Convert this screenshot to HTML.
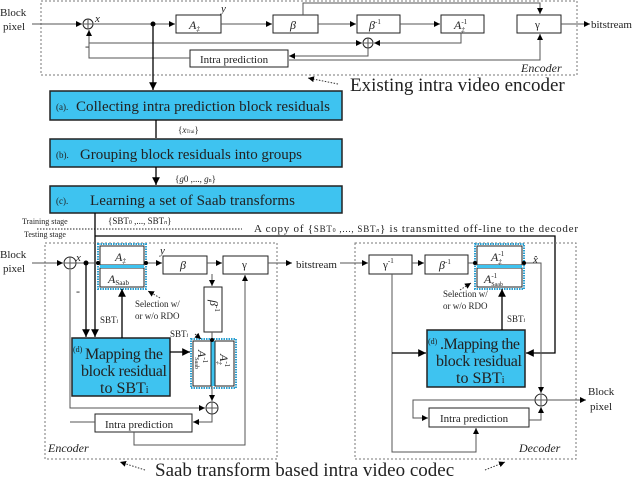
<!DOCTYPE html>
<html><head><meta charset="utf-8"><style>
html,body{margin:0;padding:0;background:#fff}
svg{display:block;font-family:"Liberation Serif",serif}
</style></head><body>
<svg width="640" height="479" viewBox="0 0 640 479" xmlns="http://www.w3.org/2000/svg">
<defs>
<marker id="a" viewBox="0 0 10 10" refX="10" refY="5" markerWidth="6" markerHeight="6" orient="auto"><path d="M0,0L10,5L0,10z" fill="#000"/></marker>
</defs>
<g fill="none" stroke="#666" stroke-width="1">
<rect x="41" y="1" width="536" height="74" stroke="#777" stroke-dasharray="2,2"/>
</g>
<g fill="#fff" stroke="#222" stroke-width="1">
<rect x="176" y="15" width="45" height="18"/>
<rect x="273" y="15" width="45" height="18"/>
<rect x="357" y="15" width="43" height="18"/>
<rect x="441" y="15" width="43" height="18"/>
<rect x="517" y="15" width="44" height="18"/>
<rect x="190" y="50" width="98" height="17"/>
<circle cx="88" cy="24" r="5"/><circle cx="368" cy="43" r="5"/>
</g>
<g stroke="#555" stroke-width="1" fill="none">
<path d="M83,24H93M88,19V29M363,43H373M368,38V48"/>
<path d="M32,24H82" marker-end="url(#a)"/>
<path d="M93,24H175" marker-end="url(#a)"/>
<path d="M221,24H272" marker-end="url(#a)"/>
<path d="M318,24H356" marker-end="url(#a)"/>
<path d="M400,24H440" marker-end="url(#a)"/>
<path d="M561,24H590" marker-end="url(#a)"/>
<path d="M303,15V3H540V14" marker-end="url(#a)"/>
<path d="M461,33V43H374" marker-end="url(#a)"/>
<path d="M89,43H362" marker-end="url(#a)"/>
<path d="M190,58H89V30" marker-end="url(#a)"/>
<path d="M368,48V56H289" marker-end="url(#a)"/>
<path d="M289,60H540V34" marker-end="url(#a)"/>
</g>
<path d="M153,24V90" stroke="#000" stroke-width="1.3" marker-end="url(#a)"/>
<circle cx="153" cy="24" r="2.5" fill="#000"/>
<path d="M338,84L308,78" stroke="#333" stroke-dasharray="1.5,1.5" marker-end="url(#a)"/>
<g font-size="11" fill="#222">
<text x="0" y="16">Block</text><text x="3" y="30">pixel</text>
<text x="95" y="22" font-style="italic">x</text>
<text x="221" y="12" font-style="italic">y</text>
<text x="189" y="29" font-style="italic" font-size="12">A<tspan font-size="7" dy="2">‡</tspan></text>
<text x="290" y="29" font-style="italic" font-size="12">β</text>
<text x="369" y="29" font-style="italic" font-size="12">β<tspan font-size="7" dy="-5" font-style="normal">-1</tspan></text>
<text x="454" y="29" font-style="italic" font-size="12">A<tspan font-size="7" dy="-5" font-style="normal">-1</tspan><tspan font-size="7" dx="-6" dy="8">‡</tspan></text>
<text x="535" y="28" font-size="11">γ</text>
<text x="591" y="28">bitstream</text>
<text x="85" y="50" font-size="12">-</text>
<text x="200" y="63">Intra prediction</text>
<text x="521" y="72" font-style="italic" font-size="12">Encoder</text>
</g>
<text x="350" y="91" font-size="19" fill="#222">Existing intra video encoder</text>
<g fill="#3ec3f0" stroke="#222" stroke-width="1.5">
<rect x="50" y="91" width="292" height="29"/>
<rect x="50" y="139" width="292" height="28"/>
<rect x="50" y="186" width="292" height="27"/>
</g>
<g fill="#222">
<text x="56" y="110" font-size="9">(a).</text><text x="76" y="111" font-size="15" textLength="254">Collecting intra prediction block residuals</text>
<text x="56" y="158" font-size="9">(b).</text><text x="80" y="159" font-size="15" textLength="222">Grouping block residuals into groups</text>
<text x="56" y="204" font-size="9">(c).</text><text x="90" y="205" font-size="15" textLength="205">Learning a set of  Saab transforms</text>
<text x="178" y="133" font-size="9">{<tspan font-style="italic">x</tspan><tspan font-size="5">Trai</tspan>}</text>
<text x="175" y="182" font-size="9">{<tspan font-style="italic">g</tspan>0 ,..., <tspan font-style="italic">g</tspan><tspan font-size="6">n</tspan>}</text>
<text x="22" y="224" font-size="8">Training stage</text>
<text x="24" y="237" font-size="8">Testing  stage</text>
<text x="108" y="224" font-size="9">{SBT<tspan font-size="6">0</tspan> ,..., SBT<tspan font-size="6" font-style="italic">n</tspan>}</text>
<text x="254" y="232" font-size="11" textLength="324">A copy of {<tspan font-size="9">SBT<tspan font-size="6">0</tspan> ,..., SBT<tspan font-size="6" font-style="italic">n</tspan></tspan>} is transmitted off-line to the decoder</text>
</g>
<path d="M156,120V138M156,167V185" stroke="#000" stroke-width="1.3" marker-end="url(#a)"/>
<path d="M37,229H242" stroke="#222" stroke-dasharray="1.5,1.5"/>
<path d="M95,213V337" stroke="#000" stroke-width="1.3" marker-end="url(#a)"/>
<path d="M95,236H555V353H526" stroke="#000" stroke-width="1.3" fill="none" marker-end="url(#a)"/>
<rect x="45" y="243" width="232" height="216" fill="none" stroke="#777" stroke-dasharray="2,2"/>
<rect x="355" y="243" width="221" height="216" fill="none" stroke="#777" stroke-dasharray="2,2"/>
<g fill="#fff" stroke="#222" stroke-width="1">
<rect x="98" y="244" width="48" height="45" stroke="#2a9fd0" stroke-width="2" stroke-dasharray="1.5,1"/>
<rect x="100" y="246" width="44" height="19"/><rect x="100" y="268" width="44" height="19"/>
<rect x="163" y="256" width="44" height="18"/>
<rect x="223" y="256" width="45" height="18"/>
<rect x="204" y="287" width="18" height="45"/>
<rect x="191" y="339" width="45" height="49" stroke="#2a9fd0" stroke-width="2" stroke-dasharray="1.5,1"/>
<rect x="193" y="341" width="18" height="45"/><rect x="215" y="341" width="19" height="45"/>
<rect x="95" y="414" width="97" height="18"/>
<circle cx="70" cy="263" r="6"/><circle cx="212" cy="408" r="6"/>
<rect x="369" y="255" width="43" height="19"/>
<rect x="425" y="255" width="43" height="19"/>
<rect x="475" y="244" width="49" height="45" stroke="#2a9fd0" stroke-width="2" stroke-dasharray="1.5,1"/>
<rect x="477" y="246" width="45" height="19"/><rect x="477" y="268" width="45" height="19"/>
<rect x="429" y="408" width="100" height="19"/>
<circle cx="541" cy="400" r="6"/>
</g>
<path d="M100,266.5H144M477,266.5H522" stroke="#3ec3f0" stroke-width="3"/>
<path d="M213,341V386" stroke="#3ec3f0" stroke-width="3"/>
<g fill="#3ec3f0" stroke="#222" stroke-width="1.5">
<rect x="72" y="338" width="98" height="58"/>
<rect x="427" y="330" width="98" height="57"/>
</g>
<g stroke="#555" stroke-width="1" fill="none">
<path d="M64,263H76M70,257V269M206,408H218M212,402V414M535,400H547M541,394V406"/>
<path d="M32,263H63" marker-end="url(#a)"/>
<path d="M76,263H100M144,263H162" marker-end="url(#a)"/>
<path d="M207,263H222" marker-end="url(#a)"/>
<path d="M268,263H292" marker-end="url(#a)"/>
<path d="M212,274V286" marker-end="url(#a)"/>
<path d="M212,332V341"/>
<path d="M212,386V401" marker-end="url(#a)"/>
<path d="M70,270V408H205" marker-end="url(#a)"/>
<path d="M95,422H70"/>
<path d="M212,414V422H193" marker-end="url(#a)"/>
<path d="M134,432V445H245V275" marker-end="url(#a)"/>
<path d="M340,263H368" marker-end="url(#a)"/>
<path d="M412,263H424" marker-end="url(#a)"/>
<path d="M468,263H477"/>
<path d="M522,263H541V393" marker-end="url(#a)"/>
<path d="M547,400H586" marker-end="url(#a)"/>
<path d="M392,274V452H476V428" marker-end="url(#a)"/>
<path d="M535,400H413V418H428" marker-end="url(#a)"/>
<path d="M529,420H541V407" marker-end="url(#a)"/>
</g>
<g stroke="#000" stroke-width="1.3" fill="none">
<path d="M86,263V337" marker-end="url(#a)"/>
<path d="M122,338V289" marker-end="url(#a)"/>
<path d="M170,352H190" marker-end="url(#a)"/>
<path d="M392,353H426" marker-end="url(#a)"/>
<path d="M502,330V289" marker-end="url(#a)"/>
</g>
<g fill="#000"><circle cx="86" cy="263" r="2.5"/><circle cx="98" cy="263" r="2"/><circle cx="146" cy="263" r="2"/><circle cx="212" cy="340" r="2"/><circle cx="475" cy="263" r="2"/><circle cx="524" cy="263" r="2"/></g>
<g stroke="#333" stroke-dasharray="1.5,1.5" fill="none">
<path d="M160,298L148,291" marker-end="url(#a)"/>
<path d="M195,334L201,339" marker-end="url(#a)"/>
<path d="M460,290L471,283" marker-end="url(#a)"/>
<path d="M145,470L120,462" marker-end="url(#a)"/>
<path d="M485,470L505,462" marker-end="url(#a)"/>
</g>
<g fill="#222" font-size="11">
<text x="0" y="258">Block</text><text x="3" y="272">pixel</text>
<text x="76" y="261" font-style="italic">x</text>
<text x="160" y="254" font-style="italic">y</text>
<text x="115" y="261" font-style="italic" font-size="12">A<tspan font-size="7" dy="2">‡</tspan></text>
<text x="108" y="283" font-style="italic" font-size="12">A<tspan font-size="7" font-style="normal" dy="2">Saab</tspan></text>
<text x="180" y="269" font-style="italic" font-size="12">β</text>
<text x="242" y="268">γ</text>
<text x="76" y="295" font-size="12">-</text>
<text x="100" y="323" font-size="9">SBT<tspan font-size="6" font-style="italic">i</tspan></text>
<text x="135" y="307" font-size="9">Selection w/</text>
<text x="135" y="319" font-size="9">or w/o RDO</text>
<text x="170" y="337" font-size="9">SBT<tspan font-size="6" font-style="italic">i</tspan></text>
<text transform="translate(210,300) rotate(90)" font-style="italic" font-size="12">β<tspan font-size="7" font-style="normal" dy="-5">-1</tspan></text>
<text transform="translate(198,350) rotate(90)" font-style="italic" font-size="12">A<tspan font-size="7" font-style="normal" dy="-5">-1</tspan><tspan font-size="6" font-style="normal" dx="-6" dy="8">Saab</tspan></text>
<text transform="translate(220,354) rotate(90)" font-style="italic" font-size="12">A<tspan font-size="7" font-style="normal" dy="-5">-1</tspan><tspan font-size="7" dx="-6" dy="8">‡</tspan></text>
<text x="73" y="352" font-size="8">(d)</text><text x="85" y="359" font-size="16" textLength="78">Mapping the</text>
<text x="81" y="376" font-size="16" textLength="86">block residual</text>
<text x="100" y="393" font-size="16">to SBT<tspan font-size="10">i</tspan></text>
<text x="105" y="428">Intra prediction</text>
<text x="48" y="452" font-style="italic" font-size="12">Encoder</text>
<text x="296" y="268">bitstream</text>
<text x="383" y="268" font-size="11">γ<tspan font-size="7" dy="-5">-1</tspan></text>
<text x="439" y="269" font-style="italic" font-size="12">β<tspan font-size="7" font-style="normal" dy="-5">-1</tspan></text>
<text x="491" y="261" font-style="italic" font-size="12">A<tspan font-size="7" font-style="normal" dy="-5">-1</tspan><tspan font-size="7" dx="-6" dy="8">‡</tspan></text>
<text x="484" y="283" font-style="italic" font-size="12">A<tspan font-size="7" font-style="normal" dy="-5">-1</tspan><tspan font-size="6" font-style="normal" dx="-6" dy="8">Saab</tspan></text>
<text x="533" y="263" font-style="italic">x̂</text>
<text x="443" y="297" font-size="9">Selection w/</text>
<text x="443" y="309" font-size="9">or w/o RDO</text>
<text x="507" y="322" font-size="9">SBT<tspan font-size="6" font-style="italic">i</tspan></text>
<text x="428" y="344" font-size="8">(d)</text><text x="440" y="349" font-size="16" textLength="80">.Mapping the</text>
<text x="436" y="366" font-size="16" textLength="86">block residual</text>
<text x="456" y="383" font-size="16">to SBT<tspan font-size="10">i</tspan></text>
<text x="440" y="422">Intra prediction</text>
<text x="588" y="395">Block</text><text x="590" y="410">pixel</text>
<text x="519" y="452" font-style="italic" font-size="12">Decoder</text>
</g>
<text x="155" y="476" font-size="19" fill="#222">Saab transform based intra video codec</text>
</svg>
</body></html>
